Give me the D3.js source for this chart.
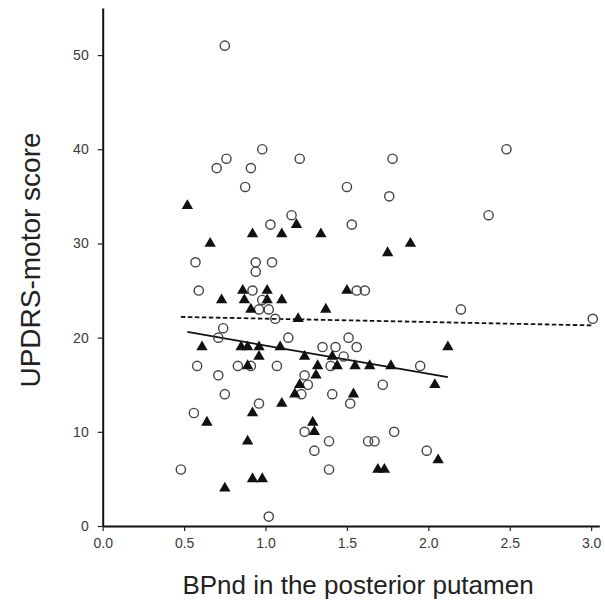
<!DOCTYPE html>
<html>
<head>
<meta charset="utf-8">
<script src="https://cdn.jsdelivr.net/npm/d3@7"></script>
<style>
  html, body { margin: 0; padding: 0; background: #fff; }
  svg { display: block; }
</style>
</head>
<body>
<svg id="chart" width="605" height="604"></svg>
<script>
// ---- data ----
const xTicks = [0.0, 0.5, 1.0, 1.5, 2.0, 2.5, 3.0];
const yTicks = [0, 10, 20, 30, 40, 50];

// open circles group
const circleX = [0.70,0.76,0.91,0.98,1.21,1.78,2.48,0.75,0.875,1.50,1.76,1.16,2.37,1.03,1.53,
  0.57,0.94,1.04,0.94,0.59,0.92,1.56,1.61,0.98,0.96,1.02,2.20,1.06,3.01,0.74,0.71,1.14,1.51,
  1.35,1.43,1.56,1.48,0.58,0.83,0.91,1.07,1.40,1.95,0.71,1.24,1.26,1.72,0.75,1.22,1.41,0.96,
  1.52,0.56,1.24,1.79,1.39,1.63,1.67,1.30,1.99,0.48,1.39,1.02];
const circleY = [38,39,38,40,39,39,40,51,36,36,35,33,33,32,32,
  28,28,28,27,25,25,25,25,24,23,23,23,22,22,21,20,20,20,
  19,19,19,18,17,17,17,17,17,17,16,16,15,15,14,14,14,13,
  13,12,10,10,9,9,9,8,8,6,6,1];

// filled triangles group
const triX = [0.52,0.92,0.66,1.10,1.19,1.34,1.75,1.89,0.86,1.01,1.50,0.73,0.87,1.01,1.10,
  0.91,1.37,1.20,0.61,0.85,0.89,0.96,1.09,0.96,1.24,1.41,0.89,1.32,1.44,1.55,1.64,1.77,
  1.31,1.21,2.04,1.18,1.54,1.10,0.92,0.64,1.29,1.30,0.89,1.69,1.73,2.06,0.92,0.98,0.75,2.12];
const triY = [34,31,30,31,32,31,29,30,25,25,25,24,24,24,24,
  23,23,22,19,19,19,19,19,18,18,18,17,17,17,17,17,17,
  16,15,15,14,14,13,12,11,11,10,9,6,6,7,5,5,4,19];

// regression lines (endpoints)
const solidLineX = [0.52, 2.12];
const solidLineY = [20.6, 15.8];
const dashedLineX = [0.48, 3.01];
const dashedLineY = [22.2, 21.3];

const xTitle = "BPnd in the posterior putamen";
const yTitle = "UPDRS-motor score";

// ---- drawing ----
const svg = d3.select("#chart");
const x = d3.scaleLinear().domain([0, 3.05]).range([102.7, 599.3]);
const y = d3.scaleLinear().domain([0, 55]).range([526, 8]);

const font = "'Liberation Sans', Arial, Helvetica, sans-serif";

// regression lines
const line = d3.line().x(d => x(d[0])).y(d => y(d[1]));
svg.append("path")
  .datum(dashedLineX.map((v, i) => [v, dashedLineY[i]]))
  .attr("d", line).attr("fill", "none")
  .attr("stroke", "#111").attr("stroke-width", 1.8)
  .attr("stroke-dasharray", "4.5,2.5");
svg.append("path")
  .datum(solidLineX.map((v, i) => [v, solidLineY[i]]))
  .attr("d", line).attr("fill", "none")
  .attr("stroke", "#111").attr("stroke-width", 1.8);

// circles
svg.append("g").selectAll("circle")
  .data(circleX.map((v, i) => [v, circleY[i]]))
  .join("circle")
  .attr("cx", d => x(d[0])).attr("cy", d => y(d[1]))
  .attr("r", 4.6)
  .attr("fill", "none").attr("stroke", "#444").attr("stroke-width", 1.4);

// triangles
const tri = d3.symbol().type(d3.symbolTriangle).size(56);
svg.append("g").selectAll("path")
  .data(triX.map((v, i) => [v, triY[i]]))
  .join("path")
  .attr("d", tri)
  .attr("transform", d => `translate(${x(d[0])},${y(d[1])})`)
  .attr("fill", "#111");

// axes
const xAxis = svg.append("g").attr("transform", `translate(0,${y(0)})`)
  .call(d3.axisBottom(x).tickValues(xTicks).tickFormat(d3.format(".1f"))
    .tickSize(5).tickSizeOuter(0).tickPadding(7));
const yAxis = svg.append("g").attr("transform", `translate(${x(0)},0)`)
  .call(d3.axisLeft(y).tickValues(yTicks).tickFormat(d3.format("d"))
    .tickSize(5).tickSizeOuter(0).tickPadding(9));

[xAxis, yAxis].forEach(g => {
  g.select(".domain").attr("stroke", "#111").attr("stroke-width", 2);
  g.selectAll(".tick line").attr("stroke", "#222").attr("stroke-width", 1.2);
  g.selectAll(".tick text").attr("fill", "#3a3a3a")
    .style("font-family", font).style("font-size", "14px");
});

// titles
svg.append("text")
  .attr("x", 358).attr("y", 594)
  .attr("text-anchor", "middle")
  .attr("fill", "#222")
  .style("font-family", font).style("font-size", "26px")
  .text(xTitle);
svg.append("text")
  .attr("transform", "translate(40,260) rotate(-90)")
  .attr("text-anchor", "middle")
  .attr("fill", "#222")
  .style("font-family", font).style("font-size", "28px")
  .text(yTitle);
</script>
</body>
</html>
